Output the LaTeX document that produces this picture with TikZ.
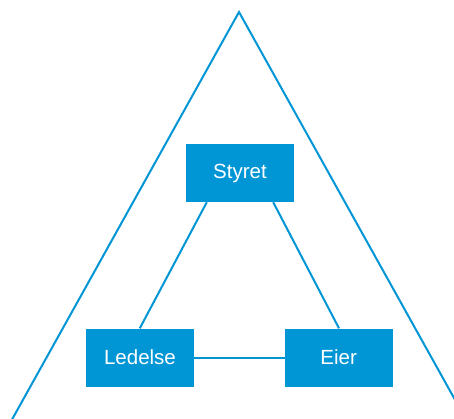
\documentclass[tikz,border=0pt]{standalone}
\usepackage{fontspec}
\setmainfont{Liberation Sans}
\definecolor{orgblue}{RGB}{0,150,214}
\begin{document}
\begin{tikzpicture}[x=1pt,y=-1pt,
  orgbox/.style={fill=orgblue,draw=none,minimum width=108pt,minimum height=58pt,
    inner sep=0pt,text=white,font=\fontsize{20.5}{24}\selectfont},
  link/.style={draw=orgblue,line width=2pt}]
  \useasboundingbox (0,0) rectangle (454,419);
  \clip (0,0) rectangle (454,419);
  % outer triangle, its base lies below the frame
  \coordinate (apex) at (239,12);
  \coordinate (footL) at (239-0.557*440,452);
  \coordinate (footR) at (239+0.557*440,452);
  \draw[link] (footL) -- (apex) -- (footR);
  % the three bodies
  \node[orgbox] (styret) at (240,173) {Styret};
  \node[orgbox] (ledelse) at (140,357.5) {Ledelse};
  \node[orgbox] (eier) at (338.7,357.5) {Eier};
  % relations between them
  \draw[link] ([xshift=21pt]styret.south west) -- ([xshift=54pt]ledelse.north west);
  \draw[link] ([xshift=-21pt]styret.south east) -- ([xshift=54.5pt]eier.north west);
  \draw[link] (ledelse.east) -- (eier.west);
\end{tikzpicture}
\end{document}
